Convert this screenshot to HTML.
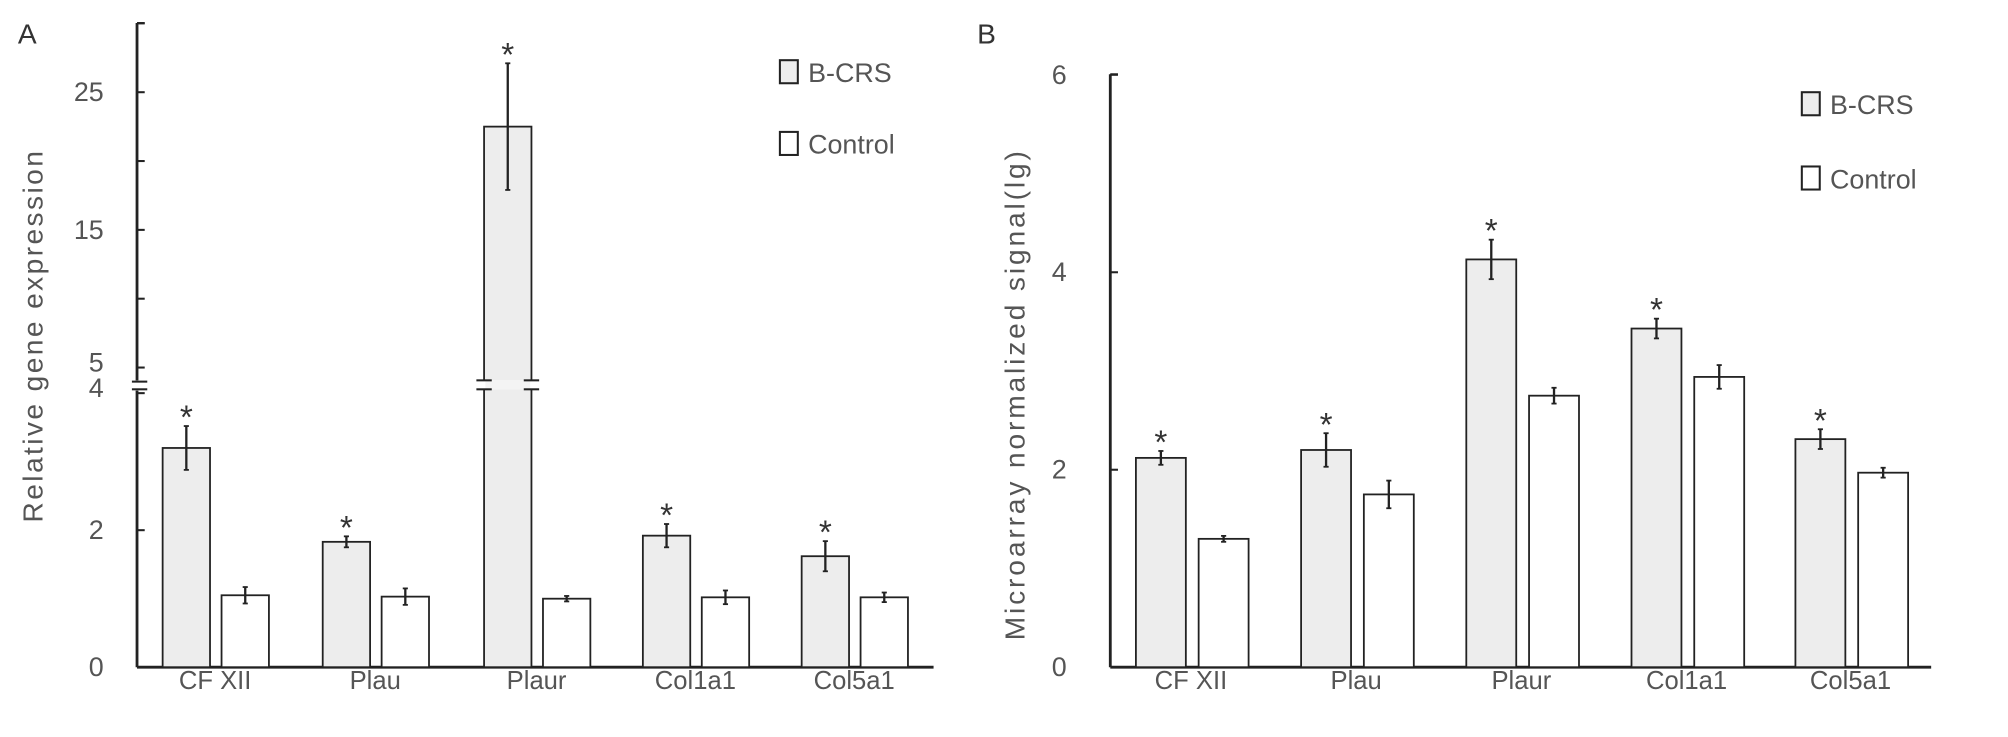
<!DOCTYPE html>
<html><head><meta charset="utf-8"><style>
html,body{margin:0;padding:0;background:#fff;}
svg{display:block;font-family:"Liberation Sans",sans-serif;}
</style></head><body>
<svg id="chart" width="2008" height="737" viewBox="0 0 1568 575.5">
<g id="a"></g>
<g id="b"></g>
</svg>
<script>
const categories = ["CF XII","Plau","Plaur","Col1a1","Col5a1"];
const aBcrs = [3.2,1.83,22.5,1.92,1.62];
const aBcrsErr = [0.32,0.08,4.6,0.17,0.22];
const aCtrl = [1.05,1.03,1.0,1.02,1.02];
const aCtrlErr = [0.12,0.12,0.04,0.1,0.07];
const bBcrs = [2.12,2.2,4.13,3.43,2.31];
const bBcrsErr = [0.07,0.17,0.2,0.1,0.1];
const bCtrl = [1.3,1.75,2.75,2.94,1.97];
const bCtrlErr = [0.03,0.14,0.08,0.12,0.05];
const aTicksLow = [0,2,4];
const aTicksHigh = [5,15,25];
const aMinorHigh = [10,20,30];
const bTicks = [0,2,4,6];
const sig = [true,true,true,true,true];

const NS="http://www.w3.org/2000/svg";
function mk(parent,tag,attrs,text){const e=document.createElementNS(NS,tag);for(const k in attrs)e.setAttribute(k,attrs[k]);if(text!==undefined)e.textContent=text;parent.appendChild(e);return e;}
const LC="#222", TC="#555";

function yA(v){return v<=4.3? 521-v*53.5 : 287-(v-5)*10.75;}
function yB(v){return 521-v*77.1;}

function panel(g,axX,xEnd,top,yf,centers,bw,offB,offC,bv,be,cv,ce,broken){
  mk(g,'line',{x1:axX,y1:521,x2:xEnd,y2:521,stroke:LC,'stroke-width':2.2});
  categories.forEach((c,i)=>{
    const cx=centers[i];
    const drawBar=(x,v,e,fill,nm)=>{
      const y=yf(v);
      const r=mk(g,'rect',{x:x,y:y,width:bw,height:521-y,fill:fill,stroke:LC,'stroke-width':1.4});
      
      
      const ex=x+bw/2;
      mk(g,'line',{x1:ex,y1:yf(v+e),x2:ex,y2:yf(v-e),stroke:LC,'stroke-width':1.8});
      mk(g,'line',{x1:ex-2,y1:yf(v+e),x2:ex+2,y2:yf(v+e),stroke:LC,'stroke-width':1.4});
      mk(g,'line',{x1:ex-2,y1:yf(v-e),x2:ex+2,y2:yf(v-e),stroke:LC,'stroke-width':1.4});
      return [ex,yf(v+e)];
    };
    const p=drawBar(cx+offB,bv[i],be[i],'#ededed','bar-bcrs');
    drawBar(cx+offC,cv[i],ce[i],'#fff','bar-control');
    if(sig[i]){const s=mk(g,'text',{x:p[0],y:p[1]+2,'text-anchor':'middle','font-size':26,fill:'#333'},'*');
      }
    const t=mk(g,'text',{x:cx,y:538,'text-anchor':'middle','font-size':20,fill:TC},c);
    
    
  });
  if(broken){
    mk(g,'line',{x1:axX,y1:top,x2:axX,y2:297,stroke:LC,'stroke-width':2.2});
    mk(g,'line',{x1:axX,y1:305,x2:axX,y2:521,stroke:LC,'stroke-width':2.2});
    mk(g,'line',{x1:axX-4,y1:298,x2:axX+8,y2:298,stroke:LC,'stroke-width':1.6});
    mk(g,'line',{x1:axX-4,y1:304,x2:axX+8,y2:304,stroke:LC,'stroke-width':1.6});
  } else {
    mk(g,'line',{x1:axX,y1:top,x2:axX,y2:521,stroke:LC,'stroke-width':2.2});
  }
  mk(g,'line',{x1:axX,y1:top,x2:axX+6,y2:top,stroke:LC,'stroke-width':1.6});
}

const ga=document.getElementById('a');
const cA=[168,293,419,543,667];
panel(ga,107,729,18,yA,cA,37,-41,5,aBcrs,aBcrsErr,aCtrl,aCtrlErr,true);
const ib=aBcrs.indexOf(Math.max(...aBcrs));
{const x=cA[ib]-41;
 mk(ga,'rect',{x:x-6,y:297,width:49,height:7,fill:'#fff'});
 mk(ga,'rect',{x:x+1,y:297,width:35,height:7,fill:'#f4f4f4'});
 mk(ga,'line',{x1:x-6,y1:297,x2:x+6,y2:297,stroke:LC,'stroke-width':1.6});
 mk(ga,'line',{x1:x-6,y1:304,x2:x+6,y2:304,stroke:LC,'stroke-width':1.6});
 mk(ga,'line',{x1:x+31,y1:297,x2:x+43,y2:297,stroke:LC,'stroke-width':1.6});
 mk(ga,'line',{x1:x+31,y1:304,x2:x+43,y2:304,stroke:LC,'stroke-width':1.6});}
aTicksLow.forEach(v=>{const y=yA(v);if(v>0)mk(ga,'line',{x1:107,y1:y,x2:113,y2:y,stroke:LC,'stroke-width':1.6});
  const t=mk(ga,'text',{x:81,y:y+(v===4?3:7),'text-anchor':'end','font-size':21,fill:TC},v);});
aTicksHigh.forEach(v=>{const y=yA(v);mk(ga,'line',{x1:107,y1:y,x2:113,y2:y,stroke:LC,'stroke-width':1.6});
  const t=mk(ga,'text',{x:81,y:y+(v===5?3:7),'text-anchor':'end','font-size':21,fill:TC},v);});
aMinorHigh.forEach(v=>{const y=yA(v);mk(ga,'line',{x1:107,y1:y,x2:113,y2:y,stroke:LC,'stroke-width':1.6});});
{const t=mk(ga,'text',{x:0,y:0,transform:'translate(33,263) rotate(-90)','text-anchor':'middle','font-size':22,fill:TC,textLength:290,lengthAdjust:'spacing'},'Relative gene expression');
 const l=mk(ga,'text',{x:14,y:34,'font-size':22,fill:'#333'},'A');}

const gb=document.getElementById('b');
const cB=[930,1059,1188,1317,1445];
panel(gb,867,1508,58,yB,cB,39,-43,6,bBcrs,bBcrsErr,bCtrl,bCtrlErr,false);
bTicks.forEach(v=>{const y=yB(v);if(v>0)mk(gb,'line',{x1:867,y1:y,x2:873,y2:y,stroke:LC,'stroke-width':1.6});
  const t=mk(gb,'text',{x:833,y:y+7,'text-anchor':'end','font-size':21,fill:TC},v);});
{const t=mk(gb,'text',{x:0,y:0,transform:'translate(800,309) rotate(-90)','text-anchor':'middle','font-size':22,fill:TC,textLength:382,lengthAdjust:'spacing'},'Microarray normalized signal(lg)');
 const l=mk(gb,'text',{x:763,y:34,'font-size':22,fill:'#333'},'B');}

function legend(g,x,y1,y2){
  [[y1,'#ededed','B-CRS','legend-bcrs'],[y2,'#fff','Control','legend-control']].forEach(a=>{
    const r=mk(g,'rect',{x:x,y:a[0],width:14,height:18,fill:a[1],stroke:LC,'stroke-width':1.6});
    
    const t=mk(g,'text',{x:x+22,y:a[0]+17,'font-size':21,fill:TC},a[2]);
    
  });
}
legend(ga,609,47,103);
legend(gb,1407,72,130);
</script>
</body></html>
